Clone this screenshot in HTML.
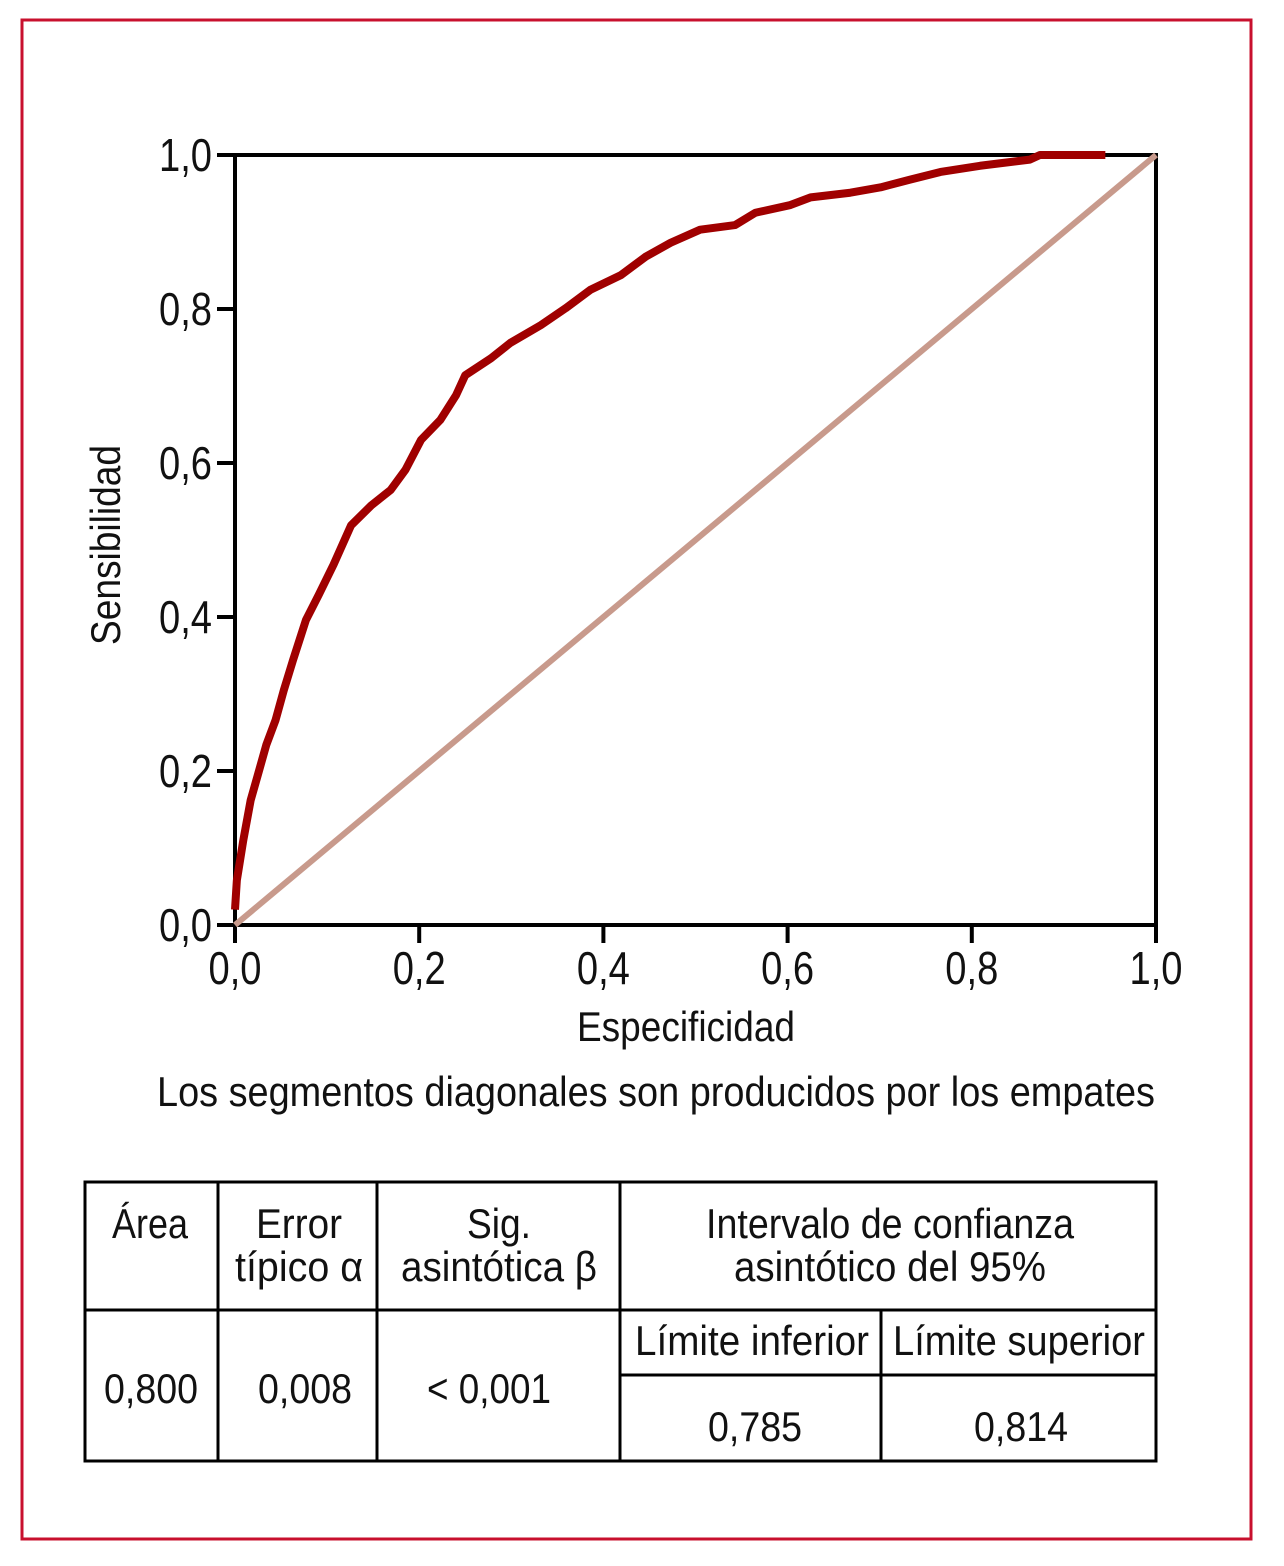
<!DOCTYPE html>
<html><head><meta charset="utf-8"><style>
html,body{margin:0;padding:0;background:#fff;}
svg{display:block;}
text{font-family:"Liberation Sans Narrow","Liberation Sans",sans-serif;fill:#111;}
</style></head><body>
<svg id="chart" width="1284" height="1566" viewBox="0 0 1284 1566" xmlns="http://www.w3.org/2000/svg">
<rect x="22" y="20" width="1229" height="1519" fill="#fff" stroke="#c8102e" stroke-width="3"/>
<g id="axes"></g>
<g id="series"></g>
<text x="686" y="1041" font-size="42" text-anchor="middle" textLength="218" lengthAdjust="spacingAndGlyphs">Especificidad</text>
<text transform="translate(120,545) rotate(-90)" font-size="42" text-anchor="middle" textLength="200" lengthAdjust="spacingAndGlyphs">Sensibilidad</text>
<text x="656" y="1106" font-size="42" text-anchor="middle" textLength="998" lengthAdjust="spacingAndGlyphs">Los segmentos diagonales son producidos por los empates</text>
<g stroke="#000" stroke-width="3" fill="none">
<rect x="85" y="1182" width="1071" height="279"/>
<line x1="85" y1="1310" x2="1156" y2="1310"/>
<line x1="620" y1="1375" x2="1156" y2="1375"/>
<line x1="218" y1="1182" x2="218" y2="1461"/>
<line x1="377" y1="1182" x2="377" y2="1461"/>
<line x1="620" y1="1182" x2="620" y2="1461"/>
<line x1="881" y1="1310" x2="881" y2="1461"/>
</g>
<g font-size="42" text-anchor="middle">
<text x="150" y="1238" textLength="76" lengthAdjust="spacingAndGlyphs">Área</text>
<text x="299" y="1238" textLength="86" lengthAdjust="spacingAndGlyphs">Error</text>
<text x="299" y="1281" textLength="128" lengthAdjust="spacingAndGlyphs">típico α</text>
<text x="499" y="1238" textLength="64" lengthAdjust="spacingAndGlyphs">Sig.</text>
<text x="499" y="1281" textLength="196" lengthAdjust="spacingAndGlyphs">asintótica β</text>
<text x="890" y="1238" textLength="368" lengthAdjust="spacingAndGlyphs">Intervalo de confianza</text>
<text x="890" y="1281" textLength="312" lengthAdjust="spacingAndGlyphs">asintótico del 95%</text>
<text x="752" y="1355" textLength="234" lengthAdjust="spacingAndGlyphs">Límite inferior</text>
<text x="1019" y="1355" textLength="252" lengthAdjust="spacingAndGlyphs">Límite superior</text>
<text x="151" y="1403" textLength="94" lengthAdjust="spacingAndGlyphs">0,800</text>
<text x="305" y="1403" textLength="94" lengthAdjust="spacingAndGlyphs">0,008</text>
<text x="489" y="1403" textLength="124" lengthAdjust="spacingAndGlyphs">&lt; 0,001</text>
<text x="755" y="1441" textLength="94" lengthAdjust="spacingAndGlyphs">0,785</text>
<text x="1021" y="1441" textLength="94" lengthAdjust="spacingAndGlyphs">0,814</text>
</g>
</svg>
<script>
const xTicks=[0,0.2,0.4,0.6,0.8,1.0];
const yTicks=[0,0.2,0.4,0.6,0.8,1.0];
const tickLabels=["0,0","0,2","0,4","0,6","0,8","1,0"];
const rocX=[0,0.002,0.009,0.017,0.026,0.034,0.044,0.053,0.063,0.077,0.091,0.107,0.126,0.148,0.169,0.185,0.202,0.223,0.24,0.25,0.278,0.299,0.332,0.359,0.386,0.419,0.446,0.473,0.505,0.543,0.565,0.603,0.625,0.668,0.701,0.733,0.766,0.809,0.863,0.874,0.945];
const rocY=[0.02,0.058,0.11,0.162,0.2,0.234,0.266,0.305,0.344,0.396,0.429,0.468,0.519,0.545,0.565,0.591,0.63,0.656,0.688,0.714,0.736,0.756,0.779,0.801,0.825,0.844,0.868,0.886,0.903,0.909,0.925,0.935,0.945,0.951,0.958,0.968,0.978,0.986,0.994,1.0,1.0];
const refX=[0,1];const refY=[0,1];
const L=235,R=1156,T=155,B=925;
const sx=v=>L+v*(R-L), sy=v=>B-v*(B-T);
const NS="http://www.w3.org/2000/svg";
const ax=document.getElementById('axes'), se=document.getElementById('series');
function mk(tag,attrs,parent){const e=document.createElementNS(NS,tag);for(const k in attrs)e.setAttribute(k,attrs[k]);parent.appendChild(e);return e;}
const box=mk('rect',{x:L,y:T,width:R-L,height:B-T,fill:'none',stroke:'#000','stroke-width':4},ax);


yTicks.forEach((v,i)=>{
 const t=mk('line',{x1:217,x2:L,y1:sy(v),y2:sy(v),stroke:'#000','stroke-width':4},ax);
 
 
 const tx=mk('text',{x:212,y:sy(v)+16,'font-size':46,'text-anchor':'end',textLength:53,lengthAdjust:'spacingAndGlyphs'},ax);
 tx.textContent=tickLabels[i];
 
 
});
xTicks.forEach((v,i)=>{
 const t=mk('line',{x1:sx(v),x2:sx(v),y1:B,y2:943,stroke:'#000','stroke-width':4},ax);
 
 
 const tx=mk('text',{x:sx(v),y:984,'font-size':46,'text-anchor':'middle',textLength:53,lengthAdjust:'spacingAndGlyphs'},ax);
 tx.textContent=tickLabels[i];
 
 
});
const ref=mk('line',{x1:sx(refX[0]),y1:sy(refY[0]),x2:sx(refX[1]),y2:sy(refY[1]),stroke:'#c89a8c','stroke-width':6},se);


let d='';
rocX.forEach((v,i)=>{
 d+=(i===0?'M':' L')+sx(v)+' '+sy(rocY[i]);
});
const roc=mk('path',{d:d,fill:'none',stroke:'#a00000','stroke-width':8,'stroke-linejoin':'round'},se);


</script>
</body></html>
